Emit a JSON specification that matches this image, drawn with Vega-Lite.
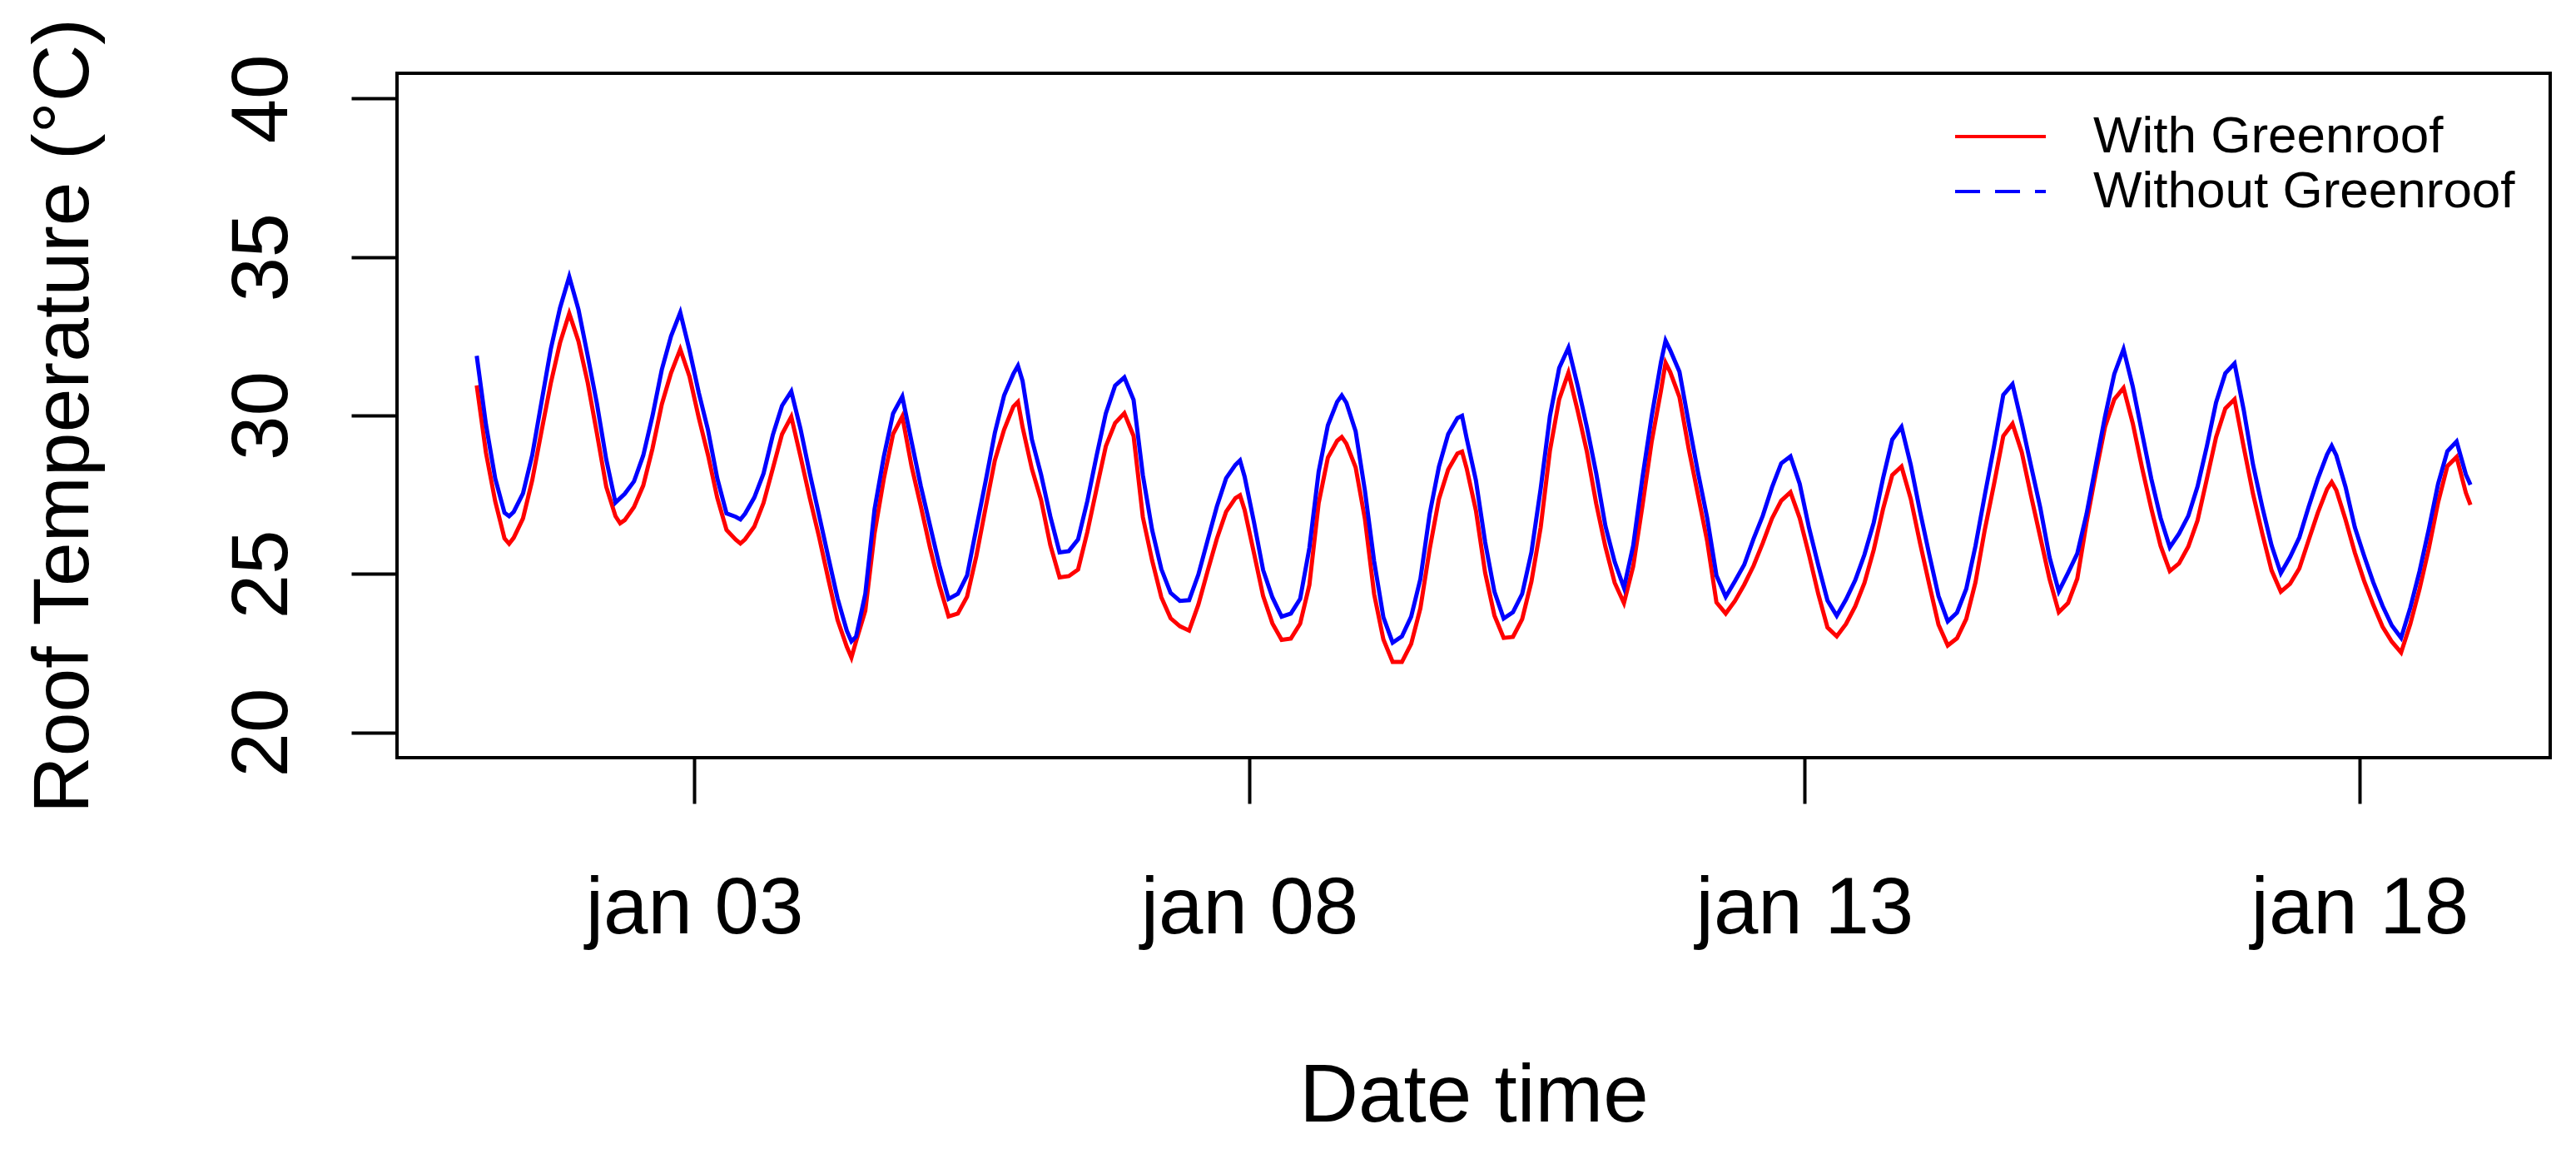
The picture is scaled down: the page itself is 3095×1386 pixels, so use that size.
{
"$schema": "https://vega.github.io/schema/vega-lite/v6.json",
"width": 2587, "height": 822,
"autosize": "none",
"padding": {"left": 477, "top": 88, "right": 31, "bottom": 476},
"background": "white",
"config": {"font": "Liberation Sans, Arial, sans-serif", "view": {"stroke": "black", "strokeWidth": 4}},
"data": {"values": [
{"s":"With Greenroof","t":"2021-01-01T01:00","v":30.95},{"s":"With Greenroof","t":"2021-01-01T03:00","v":28.82},{"s":"With Greenroof","t":"2021-01-01T05:00","v":27.29},{"s":"With Greenroof","t":"2021-01-01T07:00","v":26.12},{"s":"With Greenroof","t":"2021-01-01T08:00","v":25.95},{"s":"With Greenroof","t":"2021-01-01T09:00","v":26.14},{"s":"With Greenroof","t":"2021-01-01T11:00","v":26.75},{"s":"With Greenroof","t":"2021-01-01T13:00","v":27.96},{"s":"With Greenroof","t":"2021-01-01T15:00","v":29.50},{"s":"With Greenroof","t":"2021-01-01T17:00","v":31.01},{"s":"With Greenroof","t":"2021-01-01T19:00","v":32.29},{"s":"With Greenroof","t":"2021-01-01T21:00","v":33.22},{"s":"With Greenroof","t":"2021-01-01T23:00","v":32.34},
{"s":"With Greenroof","t":"2021-01-02T01:00","v":31.03},{"s":"With Greenroof","t":"2021-01-02T03:00","v":29.42},{"s":"With Greenroof","t":"2021-01-02T05:00","v":27.75},{"s":"With Greenroof","t":"2021-01-02T07:00","v":26.82},{"s":"With Greenroof","t":"2021-01-02T08:00","v":26.60},{"s":"With Greenroof","t":"2021-01-02T09:00","v":26.70},{"s":"With Greenroof","t":"2021-01-02T11:00","v":27.11},{"s":"With Greenroof","t":"2021-01-02T13:00","v":27.79},{"s":"With Greenroof","t":"2021-01-02T15:00","v":28.96},{"s":"With Greenroof","t":"2021-01-02T17:00","v":30.35},{"s":"With Greenroof","t":"2021-01-02T19:00","v":31.34},{"s":"With Greenroof","t":"2021-01-02T21:00","v":32.09},{"s":"With Greenroof","t":"2021-01-02T23:00","v":31.23},
{"s":"With Greenroof","t":"2021-01-03T01:00","v":29.93},{"s":"With Greenroof","t":"2021-01-03T03:00","v":28.75},{"s":"With Greenroof","t":"2021-01-03T05:00","v":27.40},{"s":"With Greenroof","t":"2021-01-03T07:00","v":26.39},{"s":"With Greenroof","t":"2021-01-03T09:00","v":26.08},{"s":"With Greenroof","t":"2021-01-03T10:00","v":25.96},{"s":"With Greenroof","t":"2021-01-03T11:00","v":26.09},{"s":"With Greenroof","t":"2021-01-03T13:00","v":26.49},{"s":"With Greenroof","t":"2021-01-03T15:00","v":27.24},{"s":"With Greenroof","t":"2021-01-03T17:00","v":28.32},{"s":"With Greenroof","t":"2021-01-03T19:00","v":29.41},{"s":"With Greenroof","t":"2021-01-03T21:00","v":29.96},{"s":"With Greenroof","t":"2021-01-03T23:00","v":28.70},
{"s":"With Greenroof","t":"2021-01-04T01:00","v":27.39},{"s":"With Greenroof","t":"2021-01-04T03:00","v":26.17},{"s":"With Greenroof","t":"2021-01-04T05:00","v":24.84},{"s":"With Greenroof","t":"2021-01-04T07:00","v":23.55},{"s":"With Greenroof","t":"2021-01-04T09:00","v":22.70},{"s":"With Greenroof","t":"2021-01-04T10:00","v":22.36},{"s":"With Greenroof","t":"2021-01-04T11:00","v":22.87},{"s":"With Greenroof","t":"2021-01-04T13:00","v":23.84},{"s":"With Greenroof","t":"2021-01-04T15:00","v":26.28},{"s":"With Greenroof","t":"2021-01-04T17:00","v":28.00},{"s":"With Greenroof","t":"2021-01-04T19:00","v":29.41},{"s":"With Greenroof","t":"2021-01-04T21:00","v":29.97},{"s":"With Greenroof","t":"2021-01-04T23:00","v":28.40},
{"s":"With Greenroof","t":"2021-01-05T01:00","v":27.14},{"s":"With Greenroof","t":"2021-01-05T03:00","v":25.82},{"s":"With Greenroof","t":"2021-01-05T05:00","v":24.65},{"s":"With Greenroof","t":"2021-01-05T07:00","v":23.66},{"s":"With Greenroof","t":"2021-01-05T09:00","v":23.75},{"s":"With Greenroof","t":"2021-01-05T11:00","v":24.28},{"s":"With Greenroof","t":"2021-01-05T13:00","v":25.56},{"s":"With Greenroof","t":"2021-01-05T15:00","v":27.08},{"s":"With Greenroof","t":"2021-01-05T17:00","v":28.58},{"s":"With Greenroof","t":"2021-01-05T19:00","v":29.55},{"s":"With Greenroof","t":"2021-01-05T21:00","v":30.28},{"s":"With Greenroof","t":"2021-01-05T22:00","v":30.43},{"s":"With Greenroof","t":"2021-01-05T23:00","v":29.63},
{"s":"With Greenroof","t":"2021-01-06T01:00","v":28.32},{"s":"With Greenroof","t":"2021-01-06T03:00","v":27.33},{"s":"With Greenroof","t":"2021-01-06T05:00","v":25.91},{"s":"With Greenroof","t":"2021-01-06T07:00","v":24.89},{"s":"With Greenroof","t":"2021-01-06T09:00","v":24.93},{"s":"With Greenroof","t":"2021-01-06T11:00","v":25.14},{"s":"With Greenroof","t":"2021-01-06T13:00","v":26.32},{"s":"With Greenroof","t":"2021-01-06T15:00","v":27.69},{"s":"With Greenroof","t":"2021-01-06T17:00","v":29.03},{"s":"With Greenroof","t":"2021-01-06T19:00","v":29.76},{"s":"With Greenroof","t":"2021-01-06T21:00","v":30.07},{"s":"With Greenroof","t":"2021-01-06T23:00","v":29.35},
{"s":"With Greenroof","t":"2021-01-07T01:00","v":26.79},{"s":"With Greenroof","t":"2021-01-07T03:00","v":25.43},{"s":"With Greenroof","t":"2021-01-07T05:00","v":24.26},{"s":"With Greenroof","t":"2021-01-07T07:00","v":23.60},{"s":"With Greenroof","t":"2021-01-07T09:00","v":23.35},{"s":"With Greenroof","t":"2021-01-07T11:00","v":23.21},{"s":"With Greenroof","t":"2021-01-07T13:00","v":24.03},{"s":"With Greenroof","t":"2021-01-07T15:00","v":25.09},{"s":"With Greenroof","t":"2021-01-07T17:00","v":26.11},{"s":"With Greenroof","t":"2021-01-07T19:00","v":26.96},{"s":"With Greenroof","t":"2021-01-07T21:00","v":27.39},{"s":"With Greenroof","t":"2021-01-07T22:00","v":27.48},{"s":"With Greenroof","t":"2021-01-07T23:00","v":27.02},
{"s":"With Greenroof","t":"2021-01-08T01:00","v":25.67},{"s":"With Greenroof","t":"2021-01-08T03:00","v":24.30},{"s":"With Greenroof","t":"2021-01-08T05:00","v":23.44},{"s":"With Greenroof","t":"2021-01-08T07:00","v":22.92},{"s":"With Greenroof","t":"2021-01-08T09:00","v":22.96},{"s":"With Greenroof","t":"2021-01-08T11:00","v":23.43},{"s":"With Greenroof","t":"2021-01-08T13:00","v":24.65},{"s":"With Greenroof","t":"2021-01-08T15:00","v":27.23},{"s":"With Greenroof","t":"2021-01-08T17:00","v":28.67},{"s":"With Greenroof","t":"2021-01-08T19:00","v":29.20},{"s":"With Greenroof","t":"2021-01-08T20:00","v":29.32},{"s":"With Greenroof","t":"2021-01-08T21:00","v":29.11},{"s":"With Greenroof","t":"2021-01-08T23:00","v":28.36},
{"s":"With Greenroof","t":"2021-01-09T01:00","v":26.74},{"s":"With Greenroof","t":"2021-01-09T03:00","v":24.36},{"s":"With Greenroof","t":"2021-01-09T05:00","v":22.93},{"s":"With Greenroof","t":"2021-01-09T07:00","v":22.22},{"s":"With Greenroof","t":"2021-01-09T09:00","v":22.22},{"s":"With Greenroof","t":"2021-01-09T11:00","v":22.79},{"s":"With Greenroof","t":"2021-01-09T13:00","v":23.92},{"s":"With Greenroof","t":"2021-01-09T15:00","v":25.78},{"s":"With Greenroof","t":"2021-01-09T17:00","v":27.36},{"s":"With Greenroof","t":"2021-01-09T19:00","v":28.29},{"s":"With Greenroof","t":"2021-01-09T21:00","v":28.80},{"s":"With Greenroof","t":"2021-01-09T22:00","v":28.86},{"s":"With Greenroof","t":"2021-01-09T23:00","v":28.33},
{"s":"With Greenroof","t":"2021-01-10T01:00","v":27.00},{"s":"With Greenroof","t":"2021-01-10T03:00","v":25.03},{"s":"With Greenroof","t":"2021-01-10T05:00","v":23.69},{"s":"With Greenroof","t":"2021-01-10T07:00","v":22.98},{"s":"With Greenroof","t":"2021-01-10T09:00","v":23.01},{"s":"With Greenroof","t":"2021-01-10T11:00","v":23.57},{"s":"With Greenroof","t":"2021-01-10T13:00","v":24.76},{"s":"With Greenroof","t":"2021-01-10T15:00","v":26.47},{"s":"With Greenroof","t":"2021-01-10T17:00","v":28.89},{"s":"With Greenroof","t":"2021-01-10T19:00","v":30.51},{"s":"With Greenroof","t":"2021-01-10T21:00","v":31.35},{"s":"With Greenroof","t":"2021-01-10T23:00","v":30.15},
{"s":"With Greenroof","t":"2021-01-11T01:00","v":28.85},{"s":"With Greenroof","t":"2021-01-11T03:00","v":27.22},{"s":"With Greenroof","t":"2021-01-11T05:00","v":25.85},{"s":"With Greenroof","t":"2021-01-11T07:00","v":24.72},{"s":"With Greenroof","t":"2021-01-11T09:00","v":24.08},{"s":"With Greenroof","t":"2021-01-11T11:00","v":25.24},{"s":"With Greenroof","t":"2021-01-11T13:00","v":27.15},{"s":"With Greenroof","t":"2021-01-11T15:00","v":29.18},{"s":"With Greenroof","t":"2021-01-11T17:00","v":30.78},{"s":"With Greenroof","t":"2021-01-11T18:00","v":31.66},{"s":"With Greenroof","t":"2021-01-11T19:00","v":31.37},{"s":"With Greenroof","t":"2021-01-11T21:00","v":30.58},{"s":"With Greenroof","t":"2021-01-11T23:00","v":28.95},
{"s":"With Greenroof","t":"2021-01-12T01:00","v":27.50},{"s":"With Greenroof","t":"2021-01-12T03:00","v":26.03},{"s":"With Greenroof","t":"2021-01-12T05:00","v":24.10},{"s":"With Greenroof","t":"2021-01-12T07:00","v":23.75},{"s":"With Greenroof","t":"2021-01-12T09:00","v":24.15},{"s":"With Greenroof","t":"2021-01-12T11:00","v":24.66},{"s":"With Greenroof","t":"2021-01-12T13:00","v":25.25},{"s":"With Greenroof","t":"2021-01-12T15:00","v":25.97},{"s":"With Greenroof","t":"2021-01-12T17:00","v":26.75},{"s":"With Greenroof","t":"2021-01-12T19:00","v":27.31},{"s":"With Greenroof","t":"2021-01-12T21:00","v":27.58},{"s":"With Greenroof","t":"2021-01-12T23:00","v":26.76},
{"s":"With Greenroof","t":"2021-01-13T01:00","v":25.61},{"s":"With Greenroof","t":"2021-01-13T03:00","v":24.37},{"s":"With Greenroof","t":"2021-01-13T05:00","v":23.31},{"s":"With Greenroof","t":"2021-01-13T07:00","v":23.03},{"s":"With Greenroof","t":"2021-01-13T09:00","v":23.42},{"s":"With Greenroof","t":"2021-01-13T11:00","v":23.98},{"s":"With Greenroof","t":"2021-01-13T13:00","v":24.72},{"s":"With Greenroof","t":"2021-01-13T15:00","v":25.76},{"s":"With Greenroof","t":"2021-01-13T17:00","v":27.04},{"s":"With Greenroof","t":"2021-01-13T19:00","v":28.12},{"s":"With Greenroof","t":"2021-01-13T21:00","v":28.39},{"s":"With Greenroof","t":"2021-01-13T23:00","v":27.37},
{"s":"With Greenroof","t":"2021-01-14T01:00","v":25.98},{"s":"With Greenroof","t":"2021-01-14T03:00","v":24.67},{"s":"With Greenroof","t":"2021-01-14T05:00","v":23.40},{"s":"With Greenroof","t":"2021-01-14T07:00","v":22.74},{"s":"With Greenroof","t":"2021-01-14T09:00","v":22.97},{"s":"With Greenroof","t":"2021-01-14T11:00","v":23.58},{"s":"With Greenroof","t":"2021-01-14T13:00","v":24.74},{"s":"With Greenroof","t":"2021-01-14T15:00","v":26.39},{"s":"With Greenroof","t":"2021-01-14T17:00","v":27.83},{"s":"With Greenroof","t":"2021-01-14T19:00","v":29.35},{"s":"With Greenroof","t":"2021-01-14T21:00","v":29.74},{"s":"With Greenroof","t":"2021-01-14T23:00","v":28.84},
{"s":"With Greenroof","t":"2021-01-15T01:00","v":27.47},{"s":"With Greenroof","t":"2021-01-15T03:00","v":26.16},{"s":"With Greenroof","t":"2021-01-15T05:00","v":24.84},{"s":"With Greenroof","t":"2021-01-15T07:00","v":23.79},{"s":"With Greenroof","t":"2021-01-15T09:00","v":24.08},{"s":"With Greenroof","t":"2021-01-15T11:00","v":24.85},{"s":"With Greenroof","t":"2021-01-15T13:00","v":26.62},{"s":"With Greenroof","t":"2021-01-15T15:00","v":28.18},{"s":"With Greenroof","t":"2021-01-15T17:00","v":29.64},{"s":"With Greenroof","t":"2021-01-15T19:00","v":30.51},{"s":"With Greenroof","t":"2021-01-15T21:00","v":30.87},{"s":"With Greenroof","t":"2021-01-15T23:00","v":29.75},
{"s":"With Greenroof","t":"2021-01-16T01:00","v":28.35},{"s":"With Greenroof","t":"2021-01-16T03:00","v":27.06},{"s":"With Greenroof","t":"2021-01-16T05:00","v":25.89},{"s":"With Greenroof","t":"2021-01-16T07:00","v":25.09},{"s":"With Greenroof","t":"2021-01-16T09:00","v":25.33},{"s":"With Greenroof","t":"2021-01-16T11:00","v":25.86},{"s":"With Greenroof","t":"2021-01-16T13:00","v":26.69},{"s":"With Greenroof","t":"2021-01-16T15:00","v":27.99},{"s":"With Greenroof","t":"2021-01-16T17:00","v":29.31},{"s":"With Greenroof","t":"2021-01-16T19:00","v":30.22},{"s":"With Greenroof","t":"2021-01-16T21:00","v":30.51},{"s":"With Greenroof","t":"2021-01-16T23:00","v":28.99},
{"s":"With Greenroof","t":"2021-01-17T01:00","v":27.52},{"s":"With Greenroof","t":"2021-01-17T03:00","v":26.27},{"s":"With Greenroof","t":"2021-01-17T05:00","v":25.11},{"s":"With Greenroof","t":"2021-01-17T07:00","v":24.44},{"s":"With Greenroof","t":"2021-01-17T09:00","v":24.69},{"s":"With Greenroof","t":"2021-01-17T11:00","v":25.17},{"s":"With Greenroof","t":"2021-01-17T13:00","v":26.06},{"s":"With Greenroof","t":"2021-01-17T15:00","v":26.93},{"s":"With Greenroof","t":"2021-01-17T17:00","v":27.68},{"s":"With Greenroof","t":"2021-01-17T18:00","v":27.90},{"s":"With Greenroof","t":"2021-01-17T19:00","v":27.64},{"s":"With Greenroof","t":"2021-01-17T21:00","v":26.71},{"s":"With Greenroof","t":"2021-01-17T23:00","v":25.67},
{"s":"With Greenroof","t":"2021-01-18T01:00","v":24.78},{"s":"With Greenroof","t":"2021-01-18T03:00","v":24.02},{"s":"With Greenroof","t":"2021-01-18T05:00","v":23.33},{"s":"With Greenroof","t":"2021-01-18T07:00","v":22.86},{"s":"With Greenroof","t":"2021-01-18T09:00","v":22.52},{"s":"With Greenroof","t":"2021-01-18T11:00","v":23.42},{"s":"With Greenroof","t":"2021-01-18T13:00","v":24.53},{"s":"With Greenroof","t":"2021-01-18T15:00","v":25.80},{"s":"With Greenroof","t":"2021-01-18T17:00","v":27.26},{"s":"With Greenroof","t":"2021-01-18T19:00","v":28.40},{"s":"With Greenroof","t":"2021-01-18T21:00","v":28.69},{"s":"With Greenroof","t":"2021-01-18T23:00","v":27.56},
{"s":"With Greenroof","t":"2021-01-19T00:00","v":27.18},
{"s":"Without Greenroof","t":"2021-01-01T01:00","v":31.88},{"s":"Without Greenroof","t":"2021-01-01T03:00","v":29.71},{"s":"Without Greenroof","t":"2021-01-01T05:00","v":28.01},{"s":"Without Greenroof","t":"2021-01-01T07:00","v":26.93},{"s":"Without Greenroof","t":"2021-01-01T08:00","v":26.82},{"s":"Without Greenroof","t":"2021-01-01T09:00","v":26.96},{"s":"Without Greenroof","t":"2021-01-01T11:00","v":27.54},{"s":"Without Greenroof","t":"2021-01-01T13:00","v":28.75},{"s":"Without Greenroof","t":"2021-01-01T15:00","v":30.42},{"s":"Without Greenroof","t":"2021-01-01T17:00","v":32.09},{"s":"Without Greenroof","t":"2021-01-01T19:00","v":33.39},{"s":"Without Greenroof","t":"2021-01-01T21:00","v":34.38},{"s":"Without Greenroof","t":"2021-01-01T23:00","v":33.34},
{"s":"Without Greenroof","t":"2021-01-02T01:00","v":31.88},{"s":"Without Greenroof","t":"2021-01-02T03:00","v":30.36},{"s":"Without Greenroof","t":"2021-01-02T05:00","v":28.61},{"s":"Without Greenroof","t":"2021-01-02T07:00","v":27.25},{"s":"Without Greenroof","t":"2021-01-02T09:00","v":27.53},{"s":"Without Greenroof","t":"2021-01-02T11:00","v":27.92},{"s":"Without Greenroof","t":"2021-01-02T13:00","v":28.74},{"s":"Without Greenroof","t":"2021-01-02T15:00","v":29.99},{"s":"Without Greenroof","t":"2021-01-02T17:00","v":31.44},{"s":"Without Greenroof","t":"2021-01-02T19:00","v":32.50},{"s":"Without Greenroof","t":"2021-01-02T21:00","v":33.25},{"s":"Without Greenroof","t":"2021-01-02T23:00","v":32.06},
{"s":"Without Greenroof","t":"2021-01-03T01:00","v":30.72},{"s":"Without Greenroof","t":"2021-01-03T03:00","v":29.54},{"s":"Without Greenroof","t":"2021-01-03T05:00","v":28.02},{"s":"Without Greenroof","t":"2021-01-03T07:00","v":26.91},{"s":"Without Greenroof","t":"2021-01-03T09:00","v":26.80},{"s":"Without Greenroof","t":"2021-01-03T10:00","v":26.72},{"s":"Without Greenroof","t":"2021-01-03T11:00","v":26.90},{"s":"Without Greenroof","t":"2021-01-03T13:00","v":27.41},{"s":"Without Greenroof","t":"2021-01-03T15:00","v":28.17},{"s":"Without Greenroof","t":"2021-01-03T17:00","v":29.38},{"s":"Without Greenroof","t":"2021-01-03T19:00","v":30.31},{"s":"Without Greenroof","t":"2021-01-03T21:00","v":30.76},{"s":"Without Greenroof","t":"2021-01-03T23:00","v":29.57},
{"s":"Without Greenroof","t":"2021-01-04T01:00","v":28.17},{"s":"Without Greenroof","t":"2021-01-04T03:00","v":26.86},{"s":"Without Greenroof","t":"2021-01-04T05:00","v":25.53},{"s":"Without Greenroof","t":"2021-01-04T07:00","v":24.23},{"s":"Without Greenroof","t":"2021-01-04T09:00","v":23.21},{"s":"Without Greenroof","t":"2021-01-04T10:00","v":22.87},{"s":"Without Greenroof","t":"2021-01-04T11:00","v":23.02},{"s":"Without Greenroof","t":"2021-01-04T13:00","v":24.37},{"s":"Without Greenroof","t":"2021-01-04T15:00","v":27.04},{"s":"Without Greenroof","t":"2021-01-04T17:00","v":28.70},{"s":"Without Greenroof","t":"2021-01-04T19:00","v":30.06},{"s":"Without Greenroof","t":"2021-01-04T21:00","v":30.60},{"s":"Without Greenroof","t":"2021-01-04T23:00","v":29.17},
{"s":"Without Greenroof","t":"2021-01-05T01:00","v":27.77},{"s":"Without Greenroof","t":"2021-01-05T03:00","v":26.52},{"s":"Without Greenroof","t":"2021-01-05T05:00","v":25.28},{"s":"Without Greenroof","t":"2021-01-05T07:00","v":24.21},{"s":"Without Greenroof","t":"2021-01-05T09:00","v":24.37},{"s":"Without Greenroof","t":"2021-01-05T11:00","v":24.95},{"s":"Without Greenroof","t":"2021-01-05T13:00","v":26.44},{"s":"Without Greenroof","t":"2021-01-05T15:00","v":27.92},{"s":"Without Greenroof","t":"2021-01-05T17:00","v":29.45},{"s":"Without Greenroof","t":"2021-01-05T19:00","v":30.63},{"s":"Without Greenroof","t":"2021-01-05T21:00","v":31.31},{"s":"Without Greenroof","t":"2021-01-05T22:00","v":31.57},{"s":"Without Greenroof","t":"2021-01-05T23:00","v":31.09},
{"s":"Without Greenroof","t":"2021-01-06T01:00","v":29.25},{"s":"Without Greenroof","t":"2021-01-06T03:00","v":28.13},{"s":"Without Greenroof","t":"2021-01-06T05:00","v":26.81},{"s":"Without Greenroof","t":"2021-01-06T07:00","v":25.68},{"s":"Without Greenroof","t":"2021-01-06T09:00","v":25.72},{"s":"Without Greenroof","t":"2021-01-06T11:00","v":26.09},{"s":"Without Greenroof","t":"2021-01-06T13:00","v":27.30},{"s":"Without Greenroof","t":"2021-01-06T15:00","v":28.73},{"s":"Without Greenroof","t":"2021-01-06T17:00","v":30.07},{"s":"Without Greenroof","t":"2021-01-06T19:00","v":30.94},{"s":"Without Greenroof","t":"2021-01-06T21:00","v":31.20},{"s":"Without Greenroof","t":"2021-01-06T23:00","v":30.49},
{"s":"Without Greenroof","t":"2021-01-07T01:00","v":28.12},{"s":"Without Greenroof","t":"2021-01-07T03:00","v":26.39},{"s":"Without Greenroof","t":"2021-01-07T05:00","v":25.15},{"s":"Without Greenroof","t":"2021-01-07T07:00","v":24.40},{"s":"Without Greenroof","t":"2021-01-07T09:00","v":24.15},{"s":"Without Greenroof","t":"2021-01-07T11:00","v":24.17},{"s":"Without Greenroof","t":"2021-01-07T13:00","v":24.98},{"s":"Without Greenroof","t":"2021-01-07T15:00","v":26.06},{"s":"Without Greenroof","t":"2021-01-07T17:00","v":27.13},{"s":"Without Greenroof","t":"2021-01-07T19:00","v":28.02},{"s":"Without Greenroof","t":"2021-01-07T21:00","v":28.44},{"s":"Without Greenroof","t":"2021-01-07T22:00","v":28.58},{"s":"Without Greenroof","t":"2021-01-07T23:00","v":28.07},
{"s":"Without Greenroof","t":"2021-01-08T01:00","v":26.65},{"s":"Without Greenroof","t":"2021-01-08T03:00","v":25.12},{"s":"Without Greenroof","t":"2021-01-08T05:00","v":24.26},{"s":"Without Greenroof","t":"2021-01-08T07:00","v":23.65},{"s":"Without Greenroof","t":"2021-01-08T09:00","v":23.75},{"s":"Without Greenroof","t":"2021-01-08T11:00","v":24.21},{"s":"Without Greenroof","t":"2021-01-08T13:00","v":25.82},{"s":"Without Greenroof","t":"2021-01-08T15:00","v":28.22},{"s":"Without Greenroof","t":"2021-01-08T17:00","v":29.69},{"s":"Without Greenroof","t":"2021-01-08T19:00","v":30.43},{"s":"Without Greenroof","t":"2021-01-08T20:00","v":30.63},{"s":"Without Greenroof","t":"2021-01-08T21:00","v":30.40},{"s":"Without Greenroof","t":"2021-01-08T23:00","v":29.50},
{"s":"Without Greenroof","t":"2021-01-09T01:00","v":27.63},{"s":"Without Greenroof","t":"2021-01-09T03:00","v":25.40},{"s":"Without Greenroof","t":"2021-01-09T05:00","v":23.63},{"s":"Without Greenroof","t":"2021-01-09T07:00","v":22.83},{"s":"Without Greenroof","t":"2021-01-09T09:00","v":23.03},{"s":"Without Greenroof","t":"2021-01-09T11:00","v":23.65},{"s":"Without Greenroof","t":"2021-01-09T13:00","v":24.84},{"s":"Without Greenroof","t":"2021-01-09T15:00","v":26.89},{"s":"Without Greenroof","t":"2021-01-09T17:00","v":28.38},{"s":"Without Greenroof","t":"2021-01-09T19:00","v":29.41},{"s":"Without Greenroof","t":"2021-01-09T21:00","v":29.92},{"s":"Without Greenroof","t":"2021-01-09T22:00","v":29.99},{"s":"Without Greenroof","t":"2021-01-09T23:00","v":29.28},
{"s":"Without Greenroof","t":"2021-01-10T01:00","v":27.95},{"s":"Without Greenroof","t":"2021-01-10T03:00","v":26.00},{"s":"Without Greenroof","t":"2021-01-10T05:00","v":24.44},{"s":"Without Greenroof","t":"2021-01-10T07:00","v":23.59},{"s":"Without Greenroof","t":"2021-01-10T09:00","v":23.79},{"s":"Without Greenroof","t":"2021-01-10T11:00","v":24.37},{"s":"Without Greenroof","t":"2021-01-10T13:00","v":25.68},{"s":"Without Greenroof","t":"2021-01-10T15:00","v":27.69},{"s":"Without Greenroof","t":"2021-01-10T17:00","v":29.98},{"s":"Without Greenroof","t":"2021-01-10T19:00","v":31.50},{"s":"Without Greenroof","t":"2021-01-10T21:00","v":32.14},{"s":"Without Greenroof","t":"2021-01-10T23:00","v":30.94},
{"s":"Without Greenroof","t":"2021-01-11T01:00","v":29.63},{"s":"Without Greenroof","t":"2021-01-11T03:00","v":28.18},{"s":"Without Greenroof","t":"2021-01-11T05:00","v":26.51},{"s":"Without Greenroof","t":"2021-01-11T07:00","v":25.38},{"s":"Without Greenroof","t":"2021-01-11T09:00","v":24.56},{"s":"Without Greenroof","t":"2021-01-11T11:00","v":25.89},{"s":"Without Greenroof","t":"2021-01-11T13:00","v":28.04},{"s":"Without Greenroof","t":"2021-01-11T15:00","v":29.98},{"s":"Without Greenroof","t":"2021-01-11T17:00","v":31.68},{"s":"Without Greenroof","t":"2021-01-11T18:00","v":32.36},{"s":"Without Greenroof","t":"2021-01-11T19:00","v":32.06},{"s":"Without Greenroof","t":"2021-01-11T21:00","v":31.38},{"s":"Without Greenroof","t":"2021-01-11T23:00","v":29.77},
{"s":"Without Greenroof","t":"2021-01-12T01:00","v":28.21},{"s":"Without Greenroof","t":"2021-01-12T03:00","v":26.76},{"s":"Without Greenroof","t":"2021-01-12T05:00","v":24.95},{"s":"Without Greenroof","t":"2021-01-12T07:00","v":24.28},{"s":"Without Greenroof","t":"2021-01-12T09:00","v":24.77},{"s":"Without Greenroof","t":"2021-01-12T11:00","v":25.29},{"s":"Without Greenroof","t":"2021-01-12T13:00","v":26.10},{"s":"Without Greenroof","t":"2021-01-12T15:00","v":26.83},{"s":"Without Greenroof","t":"2021-01-12T17:00","v":27.73},{"s":"Without Greenroof","t":"2021-01-12T19:00","v":28.49},{"s":"Without Greenroof","t":"2021-01-12T21:00","v":28.71},{"s":"Without Greenroof","t":"2021-01-12T23:00","v":27.84},
{"s":"Without Greenroof","t":"2021-01-13T01:00","v":26.46},{"s":"Without Greenroof","t":"2021-01-13T03:00","v":25.28},{"s":"Without Greenroof","t":"2021-01-13T05:00","v":24.16},{"s":"Without Greenroof","t":"2021-01-13T07:00","v":23.68},{"s":"Without Greenroof","t":"2021-01-13T09:00","v":24.19},{"s":"Without Greenroof","t":"2021-01-13T11:00","v":24.80},{"s":"Without Greenroof","t":"2021-01-13T13:00","v":25.61},{"s":"Without Greenroof","t":"2021-01-13T15:00","v":26.62},{"s":"Without Greenroof","t":"2021-01-13T17:00","v":28.01},{"s":"Without Greenroof","t":"2021-01-13T19:00","v":29.24},{"s":"Without Greenroof","t":"2021-01-13T21:00","v":29.64},{"s":"Without Greenroof","t":"2021-01-13T23:00","v":28.44},
{"s":"Without Greenroof","t":"2021-01-14T01:00","v":26.97},{"s":"Without Greenroof","t":"2021-01-14T03:00","v":25.61},{"s":"Without Greenroof","t":"2021-01-14T05:00","v":24.30},{"s":"Without Greenroof","t":"2021-01-14T07:00","v":23.50},{"s":"Without Greenroof","t":"2021-01-14T09:00","v":23.78},{"s":"Without Greenroof","t":"2021-01-14T11:00","v":24.53},{"s":"Without Greenroof","t":"2021-01-14T13:00","v":25.89},{"s":"Without Greenroof","t":"2021-01-14T15:00","v":27.48},{"s":"Without Greenroof","t":"2021-01-14T17:00","v":29.02},{"s":"Without Greenroof","t":"2021-01-14T19:00","v":30.65},{"s":"Without Greenroof","t":"2021-01-14T21:00","v":30.99},{"s":"Without Greenroof","t":"2021-01-14T23:00","v":29.75},
{"s":"Without Greenroof","t":"2021-01-15T01:00","v":28.41},{"s":"Without Greenroof","t":"2021-01-15T03:00","v":27.09},{"s":"Without Greenroof","t":"2021-01-15T05:00","v":25.53},{"s":"Without Greenroof","t":"2021-01-15T07:00","v":24.45},{"s":"Without Greenroof","t":"2021-01-15T09:00","v":25.03},{"s":"Without Greenroof","t":"2021-01-15T11:00","v":25.64},{"s":"Without Greenroof","t":"2021-01-15T13:00","v":26.89},{"s":"Without Greenroof","t":"2021-01-15T15:00","v":28.43},{"s":"Without Greenroof","t":"2021-01-15T17:00","v":29.97},{"s":"Without Greenroof","t":"2021-01-15T19:00","v":31.31},{"s":"Without Greenroof","t":"2021-01-15T21:00","v":32.09},{"s":"Without Greenroof","t":"2021-01-15T23:00","v":30.91},
{"s":"Without Greenroof","t":"2021-01-16T01:00","v":29.45},{"s":"Without Greenroof","t":"2021-01-16T03:00","v":28.00},{"s":"Without Greenroof","t":"2021-01-16T05:00","v":26.77},{"s":"Without Greenroof","t":"2021-01-16T07:00","v":25.84},{"s":"Without Greenroof","t":"2021-01-16T09:00","v":26.27},{"s":"Without Greenroof","t":"2021-01-16T11:00","v":26.83},{"s":"Without Greenroof","t":"2021-01-16T13:00","v":27.76},{"s":"Without Greenroof","t":"2021-01-16T15:00","v":29.02},{"s":"Without Greenroof","t":"2021-01-16T17:00","v":30.41},{"s":"Without Greenroof","t":"2021-01-16T19:00","v":31.33},{"s":"Without Greenroof","t":"2021-01-16T21:00","v":31.64},{"s":"Without Greenroof","t":"2021-01-16T23:00","v":30.16},
{"s":"Without Greenroof","t":"2021-01-17T01:00","v":28.44},{"s":"Without Greenroof","t":"2021-01-17T03:00","v":27.11},{"s":"Without Greenroof","t":"2021-01-17T05:00","v":25.90},{"s":"Without Greenroof","t":"2021-01-17T07:00","v":25.02},{"s":"Without Greenroof","t":"2021-01-17T09:00","v":25.53},{"s":"Without Greenroof","t":"2021-01-17T11:00","v":26.15},{"s":"Without Greenroof","t":"2021-01-17T13:00","v":27.11},{"s":"Without Greenroof","t":"2021-01-17T15:00","v":28.00},{"s":"Without Greenroof","t":"2021-01-17T17:00","v":28.77},{"s":"Without Greenroof","t":"2021-01-17T18:00","v":29.04},{"s":"Without Greenroof","t":"2021-01-17T19:00","v":28.74},{"s":"Without Greenroof","t":"2021-01-17T21:00","v":27.74},{"s":"Without Greenroof","t":"2021-01-17T23:00","v":26.47},
{"s":"Without Greenroof","t":"2021-01-18T01:00","v":25.57},{"s":"Without Greenroof","t":"2021-01-18T03:00","v":24.73},{"s":"Without Greenroof","t":"2021-01-18T05:00","v":23.99},{"s":"Without Greenroof","t":"2021-01-18T07:00","v":23.37},{"s":"Without Greenroof","t":"2021-01-18T09:00","v":22.98},{"s":"Without Greenroof","t":"2021-01-18T11:00","v":23.94},{"s":"Without Greenroof","t":"2021-01-18T13:00","v":25.09},{"s":"Without Greenroof","t":"2021-01-18T15:00","v":26.42},{"s":"Without Greenroof","t":"2021-01-18T17:00","v":27.84},{"s":"Without Greenroof","t":"2021-01-18T19:00","v":28.87},{"s":"Without Greenroof","t":"2021-01-18T21:00","v":29.18},{"s":"Without Greenroof","t":"2021-01-18T23:00","v":28.14},
{"s":"Without Greenroof","t":"2021-01-19T00:00","v":27.81}
]},
"mark": {"type": "line", "strokeWidth": 5},
"encoding": {
"x": {"field": "t", "type": "temporal",
 "scale": {"domain": [{"year": 2020, "month": 12, "date": 31, "hours": 7, "minutes": 46}, {"year": 2021, "month": 1, "date": 19, "hours": 17, "minutes": 14}]},
 "axis": {"title": "Date time", "values": [{"year": 2021, "month": 1, "date": 3}, {"year": 2021, "month": 1, "date": 8}, {"year": 2021, "month": 1, "date": 13}, {"year": 2021, "month": 1, "date": 18}],
  "labelExpr": "lower(timeFormat(datum.value, '%b %d'))",
  "grid": false, "domain": false, "ticks": true, "tickColor": "black", "tickWidth": 4, "tickSize": 55,
  "labelFontSize": 96, "labelColor": "black", "labelBaseline": "alphabetic", "labelPadding": 155, "labelFlush": false, "labelOverlap": false, "labelLimit": 0,
  "titleFontSize": 98, "titleFontWeight": "normal", "titleColor": "black", "titleBaseline": "alphabetic", "titleY": 436, "titleLimit": 0}},
"y": {"field": "v", "type": "quantitative",
 "scale": {"domain": [19.2, 40.8], "nice": false, "zero": false},
 "axis": {"title": "Roof Temperature (°C)", "values": [20, 25, 30, 35, 40],
  "grid": false, "domain": false, "tickColor": "black", "tickWidth": 4, "tickSize": 55,
  "labelAngle": -90, "labelAlign": "center", "labelBaseline": "alphabetic", "labelPadding": 78,
  "labelFontSize": 96, "labelColor": "black", "labelFlush": false, "labelOverlap": false, "labelLimit": 0,
  "titleFontSize": 95, "titleFontWeight": "normal", "titleColor": "black", "titleAngle": -90, "titleBaseline": "alphabetic", "titleAlign": "center", "titleX": -372, "titleY": 411, "titleLimit": 0}},
"color": {"field": "s", "type": "nominal",
 "scale": {"domain": ["With Greenroof", "Without Greenroof"], "range": ["#ff0000", "#0000ff"]},
 "legend": {"title": null, "orient": "none", "legendX": 1870, "legendY": 43, "padding": 0,
  "symbolType": "stroke", "symbolSize": 11881, "symbolStrokeWidth": 4, "clipHeight": 66,
  "labelFontSize": 62, "labelColor": "black", "labelOffset": 55, "rowPadding": 0, "labelLimit": 0,
  "encode": {"symbols": {"update": {"strokeDash": {"signal": "datum.value == 'Without Greenroof' ? [30, 18] : null"}}}}}}
}
}
